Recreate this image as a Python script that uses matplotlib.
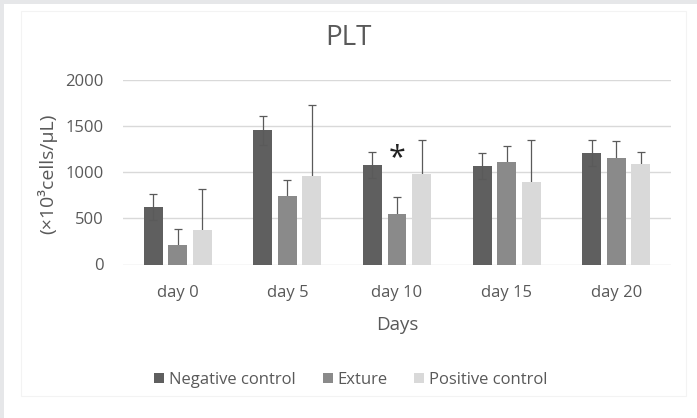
import numpy as np
import matplotlib.pyplot as plt
from matplotlib.patches import Rectangle

plt.rcParams['font.family'] = ['Open Sans', 'DejaVu Sans']

# Data
days = ['day 0', 'day 5', 'day 10', 'day 15', 'day 20']
groups = ['Negative control', 'Exture', 'Positive control']
negative = [627, 1455, 1082, 1068, 1209]
exture = [211, 746, 551, 1108, 1158]
positive = [371, 963, 978, 898, 1093]
negative_err = [140, 155, 141, 137, 141]
exture_err = [177, 173, 177, 177, 181]
positive_err = [447, 763, 372, 452, 130]

colors = ['#5f5f5f', '#8a8a8a', '#d9d9d9']
txt = '#595959'

fig = plt.figure(figsize=(6.97, 4.18), dpi=100)
fig.patch.set_facecolor('white')

# grey frame on top/left like the screenshot
fig.patches.append(Rectangle((0, 0), 4 / 697, 1, transform=fig.transFigure,
                             facecolor='#e6e7e9', edgecolor='none'))
fig.patches.append(Rectangle((0, 1 - 4 / 418), 1, 4 / 418, transform=fig.transFigure,
                             facecolor='#e6e7e9', edgecolor='none'))
fig.patches.append(Rectangle((21 / 697, 22 / 418), 665 / 697, 385 / 418,
                             transform=fig.transFigure, facecolor='none',
                             edgecolor='#f3f3f3', linewidth=0.8))

ax = fig.add_axes([123 / 697, (418 - 264.5) / 418, 548 / 697, 184.5 / 418])

x = np.arange(len(days))
w = 0.173
step = 0.224
# negative control whiskers drawn over the bar, the others tucked behind
# so only the upper half shows
ekw_front = dict(ecolor='#5a5a5a', elinewidth=0.9, capsize=3, capthick=0.9, zorder=3)
ekw_back = dict(ecolor='#5a5a5a', elinewidth=0.9, capsize=3, capthick=0.9, zorder=1)
ax.bar(x - step, negative, w, color=colors[0], label=groups[0], zorder=2,
       yerr=negative_err, error_kw=ekw_front)
ax.bar(x, exture, w, color=colors[1], label=groups[1], zorder=2,
       yerr=exture_err, error_kw=ekw_back)
ax.bar(x + step, positive, w, color=colors[2], label=groups[2], zorder=2,
       yerr=positive_err, error_kw=ekw_back)

ax.text(x[2], 1150, '*', ha='center', va='center', fontsize=22, color='#222222')

ax.set_xlim(-0.5, len(days) - 0.5)
ax.set_ylim(0, 2000)
ax.set_yticks([0, 500, 1000, 1500, 2000])
ax.set_xticks(x)
ax.set_xticklabels(days)
ax.grid(axis='y', color='#d9d9d9', linewidth=1, zorder=0)
ax.set_axisbelow(True)
for s in ax.spines.values():
    s.set_visible(False)
ax.tick_params(length=0, labelsize=12, colors=txt)
ax.tick_params(axis='x', pad=15)
ax.tick_params(axis='y', pad=14)

fig.text(348 / 697, 1 - 38 / 418, 'PLT', ha='center', va='center', fontsize=20, color=txt)
fig.text(47 / 697, 1 - 174 / 418, '(×10³cells/μL)', ha='center', va='center',
         rotation=90, fontsize=14, color=txt)
fig.text(397 / 697, 1 - 325 / 418, 'Days', ha='center', va='center', fontsize=13.5, color=txt)

leg = ax.legend(loc='center', bbox_to_anchor=(351 / 697, 1 - 380 / 418),
                bbox_transform=fig.transFigure, ncol=3, frameon=False,
                fontsize=12, handlelength=0.6, handleheight=0.6,
                handletextpad=0.3, columnspacing=1.6)
for t in leg.get_texts():
    t.set_color(txt)

fig.savefig('out.png', dpi=100)
